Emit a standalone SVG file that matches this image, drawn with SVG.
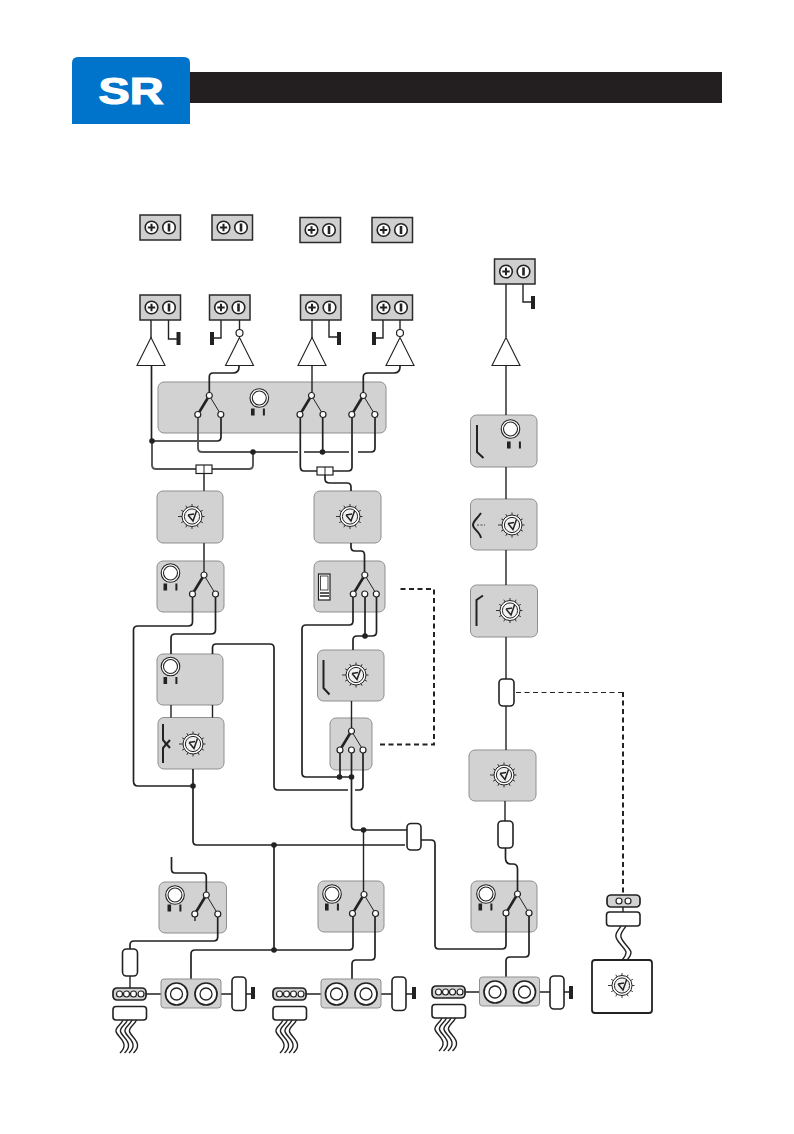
<svg xmlns="http://www.w3.org/2000/svg" xmlns:xlink="http://www.w3.org/1999/xlink" width="794" height="1134" viewBox="0 0 794 1134">
<style>
.p{fill:#d2d2d2;stroke:#8f8f8f;stroke-width:1}
.t{fill:#cfcfcf;stroke:#2a2a2a;stroke-width:1.5}
.w{fill:none;stroke:#222;stroke-width:1.4}
.g{fill:none;stroke:#555;stroke-width:1.9}
.w2{fill:none;stroke:#222;stroke-width:1.7}
.cap{fill:#fff;stroke:#222;stroke-width:1.6}
.thin{fill:#fff;stroke:#222;stroke-width:1.2}
.gnd{fill:#222;stroke:none}
.dot{fill:#222;stroke:none}
.d1{fill:none;stroke:#222;stroke-width:1.2;stroke-dasharray:5 3.5}
.d2{fill:none;stroke:#222;stroke-width:2;stroke-dasharray:5 3.5}
.sym{fill:none;stroke:#222;stroke-width:2}
</style>
<defs>
<g id="term">
<rect class="t" width="40.5" height="25"/>
<circle cx="11.5" cy="12.5" r="6.3" fill="#fff" stroke="#222" stroke-width="1.6"/>
<path d="M7.8 12.5h7.400M11.5 8.800v7.400" stroke="#222" stroke-width="2"/>
<circle cx="29" cy="12.5" r="6.3" fill="#fff" stroke="#222" stroke-width="1.6"/>
<path d="M29 8.500v8" stroke="#222" stroke-width="2.6"/>
</g>
<g id="knob">
<path d="M0-12.5v3M6.2-10.8l-1.5 2.6M10.8-6.2l-2.6 1.5M12.5 0h-3M10.8 6.2l-2.6-1.5M6.2 10.8l-1.5-2.6M0 12.5v-3M-6.2 10.8l1.5-2.6M-10.8 6.2l2.6-1.5M-14 0h4M-10.8-6.2l2.6 1.5M-6.2-10.8l1.5 2.6" stroke="#222" stroke-width=".9"/>
<circle r="10" fill="#fff" stroke="#222" stroke-width="1"/>
<circle r="7.6" fill="#f2f2f2" stroke="#222" stroke-width="1"/>
<path d="M-4-1.500L1 4.500L4.500-5.500M-4-1.500L2-2.500" fill="none" stroke="#222" stroke-width="1.5"/>
</g>
<g id="led">
<circle r="9.3" fill="#fff" stroke="#222" stroke-width="1.1"/>
<circle r="7" fill="#fff" stroke="#222" stroke-width="1.1"/>
</g>
<g id="marks">
<rect x="-7.5" y="-3.500" width="3.6" height="7" fill="#222"/>
<rect x="4.4" y="-3.500" width="2" height="7" fill="#222"/>
</g>
<g id="tri"><path d="M0 0L14 28H-14Z" fill="#fff" stroke="#222" stroke-width="1.1"/></g>
<g id="sw2">
<path d="M0 0L-11.5 19" stroke="#222" stroke-width="2.6"/>
<path d="M0 0L11.5 19" stroke="#222" stroke-width="1"/>
<circle r="3" class="thin"/><circle cx="-11.5" cy="19" r="3" class="thin"/><circle cx="11.5" cy="19" r="3" class="thin"/>
</g>
<g id="sw3">
<path d="M0 0L-11.5 19" stroke="#222" stroke-width="2.6"/>
<path d="M0 0L11.5 19" stroke="#222" stroke-width="1"/>
<circle r="3" class="thin"/><circle cx="-11.5" cy="19" r="3" class="thin"/><circle cy="19" r="3" class="thin"/><circle cx="11.5" cy="19" r="3" class="thin"/>
</g>
<g id="jack">
<rect class="p" width="60" height="29" rx="3"/>
<circle cx="15.5" cy="15" r="11" fill="#fff" stroke="#222" stroke-width="1.7"/>
<circle cx="15.5" cy="15" r="6" fill="#fff" stroke="#222" stroke-width="1.3"/>
<circle cx="45" cy="15" r="11" fill="#fff" stroke="#222" stroke-width="1.7"/>
<circle cx="45" cy="15" r="6" fill="#fff" stroke="#222" stroke-width="1.3"/>
</g>
<g id="pin4">
<rect width="33" height="12" rx="4" fill="#d2d2d2" stroke="#222" stroke-width="1.7"/>
<circle cx="6.5" cy="6" r="3" class="thin"/><circle cx="13.5" cy="6" r="3" class="thin"/><circle cx="20.5" cy="6" r="3" class="thin"/><circle cx="28" cy="6" r="3" class="thin"/>
<rect x="0" y="18.5" width="33.5" height="13.5" rx="3" class="cap"/>
<g fill="none" stroke="#222" stroke-width="1.4">
<path d="M10 32C8 37 2 39 3 43.5C4 48 12 52 11 58C11 61 9 63 7 65"/>
<path d="M14.500 32C12.500 37 6.500 39 7.500 43.5C8.500 48 16.500 52 15.500 58C15.500 61 13.500 63 11.500 65"/>
<path d="M19 32C17 37 11 39 12 43.5C13 48 21 52 20 58C20 61 18 63 16 65"/>
<path d="M23.500 32C21.500 37 15.500 39 16.500 43.5C17.500 48 25.500 52 24.500 58C24.500 61 22.500 63 20.500 65"/>
</g>
</g>
</defs>

<g id="header">
<path d="M72 124V63q0-6 6-6H184q6 0 6 6V124Z" fill="#0073cb"/>
<rect x="190" y="72" width="532" height="31" fill="#231f20"/>
<text x="98.500" y="103.500" font-family="'Liberation Sans',Arial,sans-serif" font-weight="700" font-size="37" fill="#fff" stroke="#fff" stroke-width="1.2" textLength="65" lengthAdjust="spacingAndGlyphs">SR</text>
</g>

<g id="terminals-top">
<use xlink:href="#term" href="#term" x="140" y="215"/>
<use xlink:href="#term" href="#term" x="212" y="215"/>
<use xlink:href="#term" href="#term" x="300" y="217.5"/>
<use xlink:href="#term" href="#term" x="372" y="217.5"/>
</g>

<g id="panel-main"><rect class="p" x="158" y="382" width="228" height="51" rx="6"/>
<use href="#led" x="259.3" y="398"/><use href="#marks" x="258.5" y="412"/></g>
<g id="panel-d1"><rect class="p" x="157" y="491" width="66" height="52" rx="6"/><use href="#knob" x="192" y="516.5"/></g>
<g id="panel-d2"><rect class="p" x="314" y="491" width="67" height="52" rx="6"/><use href="#knob" x="350" y="516.5"/></g>
<g id="panel-s1"><rect class="p" x="157" y="561" width="67" height="51" rx="6"/><use href="#led" x="170.5" y="573"/><use href="#marks" x="171" y="587"/></g>
<g id="panel-s2"><rect class="p" x="314" y="561" width="71" height="51" rx="6"/>
<rect x="318.5" y="574" width="11.5" height="26" fill="#fff" stroke="#222" stroke-width="1.2"/><rect x="320.5" y="576" width="7.5" height="14" fill="#fff" stroke="#222" stroke-width=".8"/><path d="M320 593h9M320 596h9" stroke="#222" stroke-width="1.4"/></g>
<g id="panel-l1"><rect class="p" x="157" y="654" width="66" height="51" rx="6"/><use href="#led" x="170.5" y="666.5"/><use href="#marks" x="171" y="680.5"/></g>
<g id="panel-eq1"><rect class="p" x="158" y="717.500" width="66" height="51.500" rx="6"/><path class="sym" d="M163 724V740L166 744L163 748V763M163 740L170 748M170 740L163 748" stroke-width="1.6"/><use href="#knob" x="193" y="744"/></g>
<g id="panel-eq2"><rect class="p" x="317.500" y="650" width="66.500" height="51" rx="6"/><path class="sym" d="M323.500 660V688L329.500 694.500"/><use href="#knob" x="356" y="675"/></g>
<g id="panel-s3"><rect class="p" x="330" y="718" width="42" height="52" rx="6"/></g>
<g id="panel-a"><rect class="p" x="159" y="882" width="67.500" height="51" rx="6"/><use href="#led" x="175" y="895"/><use href="#marks" x="175" y="908"/></g>
<g id="panel-b"><rect class="p" x="318" y="881" width="66" height="51" rx="6"/><use href="#led" x="332" y="894"/><use href="#marks" x="332.500" y="907"/></g>
<g id="panel-c"><rect class="p" x="471" y="881" width="66" height="51" rx="6"/><use href="#led" x="486" y="894"/><use href="#marks" x="486" y="907"/></g>
<g id="panel-r1"><rect class="p" x="470.500" y="415" width="66.500" height="52" rx="6"/><path class="sym" d="M477 425V452L483.500 458"/><use href="#led" x="510.500" y="429"/><use href="#marks" x="514.500" y="445"/></g>
<g id="panel-r2"><rect class="p" x="470.500" y="499" width="66.500" height="51" rx="6"/><path class="sym" d="M481 513C477 519 473 521 473 525C473 529 480 532 481 538"/><path d="M477 525h8" stroke="#222" stroke-width=".8" stroke-dasharray="2 1.500"/><use href="#knob" x="512" y="525"/></g>
<g id="panel-r3"><rect class="p" x="470.500" y="585" width="67" height="52" rx="6"/><path class="sym" d="M476.500 626V600L483 595.500"/><use href="#knob" x="510" y="610.500"/></g>
<g id="panel-r4"><rect class="p" x="469" y="750" width="67" height="51" rx="6"/><use href="#knob" x="504" y="775"/></g>

<g id="connectors">
<path class="w" d="M151 320V338M239.500 320V330M312 320V338M400 320V330M506 284V337"/>
<path class="w" d="M168.500 320V339H177M221 320V338H213M329 320V337H338M383 320V338H375M523 284V302H532"/>
<path class="w2" d="M151.500 366V441"/>
<path class="w2" d="M239 364V367Q239 373 233 373H213Q209.300 373 209.300 377V395.500"/>
<path class="w" d="M312 366V395.500"/>
<path class="w2" d="M400 364V367Q400 373 394 373H368Q363.300 373 363.300 377V395.500"/>
<path class="w2" d="M152 441H217Q221 441 221 437V414.500"/>
<path class="g" d="M152 441V465Q152 469 156 469H196M212 469H249Q253 469 253 465V452"/>
<path class="g" d="M198 414.500V448Q198 452 202 452H298"/>
<path class="w" d="M304 452H349"/>
<path class="w2" d="M358 452H371Q375 452 375 448V414.500"/>
<path class="w2" d="M322.700 414.500V452"/>
<path class="w2" d="M300.300 414.500V466Q300.300 471 304 471H317M333 471H348Q352 471 352 467V414.500"/>
<path class="w2" d="M325 475V479Q325 483 330 483H347Q351 483 351 487V491"/>
<path class="g" d="M204 474V491M204 543V575"/>
<path class="w2" d="M351 543V547Q351 551 355 551H361Q364.500 551 364.500 555V575"/>
<path class="w2" d="M192.500 594V622Q192.500 626 188 626H138Q133.500 626 133.500 630V781Q133.500 786 138 786H193"/>
<path class="w2" d="M215.500 594V630Q215.500 634 211 634H175Q171 634 171 638V654"/>
<path class="w" d="M171 705V717.500M212.500 705V717.500"/>
<path class="w2" d="M212.500 654V648Q212.500 644 216 644H270Q274 644 274 648V786Q274 790 278 790H348"/>
<path class="w2" d="M193 769V841Q193 845 197 845H405"/>
<path class="w2" d="M274 845V950"/>
<path class="w2" d="M353 594V621Q353 625 349 625H306Q302 625 302 629V773Q302 777 306 777H352"/>
<path class="w2" d="M365 594V636"/>
<path class="w2" d="M376.500 594V632Q376.500 636 372 636H357Q353 636 353 640V650"/>
<path class="w" d="M351.500 701V731"/>
<path class="w2" d="M340 750V777"/>
<path class="w2" d="M351.500 750V826Q351.500 830 356 830H407"/>
<path class="w2" d="M363 750V786Q363 790 359 790H355"/>
<path class="w" d="M363.500 830V894.500"/>
<path class="w2" d="M421 840H431Q435 840 435 844V945Q435 949 439 949H502Q506 949 506 945V913"/>
<path class="w2" d="M171.500 857V869Q171.500 873 175 873H203Q206.300 873 206.300 877V895"/>
<path class="w" d="M195 913.700V921"/>
<path class="w2" d="M217.700 913.700V937Q217.700 941 213.500 941H134Q130 941 130 945V949"/>
<path class="w" d="M130 976V988"/>
<path class="w2" d="M191 979V954Q191 950 195 950H349Q353 950 353 946V913"/>
<path class="w2" d="M375 913V956Q375 960 371 960H356Q352 960 352 964V979"/>
<path class="w2" d="M529 913V953Q529 957 525 957H510Q506 957 506 961V977"/>
<path class="w" d="M146 994H161M221 994H232M246 994H251M306 994H321M381 994H392M406 994H412M465 992H479M539 992H550M564 992H569"/>
<path class="w" d="M506 365V415M506 467V499M506 550V585M506 637V679M506 706V750M505 801V821"/>
<path class="w2" d="M505.500 848V858Q505.500 864 511 864H513Q517.500 864 517.500 869V894"/>
<path class="d2" d="M380 744.500H434V589H399"/>
<path class="d1" d="M516 692.500H622"/>
<path class="d2" d="M623 692V895"/>
<path class="w" d="M623 907V912"/>
<g class="dot">
<circle cx="152" cy="441" r="2.800"/><circle cx="253" cy="452" r="2.800"/><circle cx="322.500" cy="452" r="2.800"/>
<circle cx="365" cy="636" r="2.800"/><circle cx="193" cy="786" r="2.800"/><circle cx="339.500" cy="777" r="2.800"/><circle cx="351.500" cy="777" r="2.800"/>
<circle cx="363.500" cy="830" r="2.800"/><circle cx="274" cy="845" r="2.800"/><circle cx="274" cy="950" r="2.800"/>
</g>
</g>

<g id="terminals-mid">
<use href="#term" x="140" y="295"/><use href="#term" x="209.500" y="295"/><use href="#term" x="300.500" y="295"/><use href="#term" x="372" y="295"/><use href="#term" x="494.500" y="259"/>
<rect class="gnd" x="176.500" y="332" width="4" height="13"/><rect class="gnd" x="210" y="332" width="4" height="13"/><rect class="gnd" x="337" y="332" width="4" height="13"/><rect class="gnd" x="372" y="332" width="4" height="13"/><rect class="gnd" x="531" y="296" width="4" height="13"/>
</g>
<g id="amps">
<use href="#tri" x="151" y="337.500"/><use href="#tri" x="239.500" y="337.500"/><use href="#tri" x="312" y="337.500"/><use href="#tri" x="400" y="337.500"/><use href="#tri" x="506" y="337.500"/>
<circle cx="239.500" cy="333" r="3.500" class="thin"/><circle cx="400" cy="333" r="3.500" class="thin"/>
</g>
<g id="switches">
<use href="#sw2" x="209.300" y="395.500"/><use href="#sw2" x="311.500" y="395.500"/><use href="#sw2" x="363.300" y="395.500"/>
<use href="#sw2" x="204" y="575"/><use href="#sw3" x="364.800" y="575"/><use href="#sw3" x="351.500" y="731"/>
<use href="#sw2" x="206.300" y="895"/><use href="#sw2" x="364" y="894.500"/><use href="#sw2" x="517.500" y="894"/>
</g>
<g id="couplers">
<rect class="thin" x="196" y="465" width="16" height="8.500"/><path d="M204 465v8.500" stroke="#222"/>
<rect class="thin" x="317" y="467" width="16" height="8"/><path d="M325 467v8" stroke="#222"/>
<rect class="cap" x="407" y="823.500" width="14" height="26.500" rx="4"/>
<rect class="cap" x="122.500" y="949" width="15" height="27" rx="4"/>
<rect class="cap" x="499" y="679" width="15" height="27" rx="4"/>
<rect class="cap" x="498" y="821" width="15" height="27" rx="4"/>
</g>
<g id="output-a"><use href="#jack" x="161" y="979"/><rect class="cap" x="232" y="977" width="14" height="33.500" rx="4"/><rect class="gnd" x="251" y="987" width="4" height="12"/><use href="#pin4" x="113" y="988"/></g>
<g id="output-b"><use href="#jack" x="321" y="979"/><rect class="cap" x="392" y="977" width="14" height="33.500" rx="4"/><rect class="gnd" x="412" y="987" width="4" height="12"/><use href="#pin4" x="273" y="988"/></g>
<g id="output-c"><use href="#jack" x="479.500" y="977"/><rect class="cap" x="550" y="976" width="14" height="33" rx="4"/><rect class="gnd" x="569" y="986" width="4" height="13"/><use href="#pin4" x="432" y="986"/></g>
<g id="remote">
<rect x="607" y="895" width="33" height="12" rx="4" fill="#d2d2d2" stroke="#222" stroke-width="1.700"/>
<circle cx="619" cy="901" r="3" class="thin"/><circle cx="628" cy="901" r="3" class="thin"/>
<rect class="cap" x="606.500" y="912" width="33.500" height="14" rx="3"/>
<path d="M621 926C618 931 615 933 616 937C617 942 625 948 626 952C626 955 624 958 622 960M626 926C623 931 620 933 621 937C622 942 630 948 631 952C631 955 629 958 627 960" fill="none" stroke="#222" stroke-width="1.400"/>
<rect x="592" y="960" width="60" height="53" rx="3" fill="#fff" stroke="#222" stroke-width="1.800"/>
<use href="#knob" x="622" y="985.500"/>
</g>
</svg>
